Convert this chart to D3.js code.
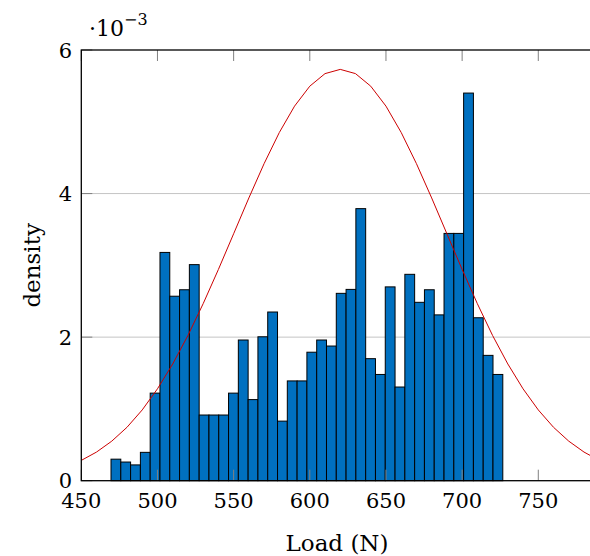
<!DOCTYPE html>
<html><head><meta charset="utf-8">
<script src="https://cdn.jsdelivr.net/npm/d3@7"></script>
<style>body{margin:0;background:#fff}svg{display:block}text{font-family:"DejaVu Serif",serif;fill:#000}</style>
</head><body>
<svg id="c" width="590" height="556"></svg>
<script>
// histogram bins (lower edge of first bin, bin width) and densities (×10^-3)
const binStart = 469.5;
const binWidth = 6.43;
const densities = [0.30,0.26,0.22,0.395,1.22,3.18,2.57,2.66,3.01,0.915,0.915,0.915,1.22,1.96,1.13,2.005,2.35,0.83,1.39,1.39,1.79,1.96,1.876,2.61,2.665,3.79,1.70,1.48,2.70,1.305,2.875,2.485,2.66,2.31,3.445,3.445,5.40,2.27,1.746,1.48];
// fitted normal curve (×10^-3)
const curveX = [450,460,470,480,490,500,510,520,530,540,550,560,570,580,590,600,610,620,630,640,650,660,670,680,690,700,710,720,730,740,750,760,770,780,790];
const curveY = [0.283,0.399,0.551,0.744,0.986,1.280,1.626,2.023,2.466,2.943,3.440,3.939,4.417,4.851,5.218,5.496,5.671,5.730,5.671,5.496,5.218,4.851,4.417,3.939,3.440,2.943,2.466,2.023,1.626,1.280,0.986,0.744,0.551,0.399,0.283];
const xTicks = [450,500,550,600,650,700,750];
const yTicks = [0,2,4,6];
const xLabel = "Load (N)";
const yLabel = "density";

const svg = d3.select("#c");
const L = 81.3, T = 50, B = 480.7;
const x = d3.scaleLinear().domain([450, 785]).range([L, L + 335 * 1.5233]);
const y = d3.scaleLinear().domain([0, 6]).range([B, T]);
const R = x.range()[1];

const defs = svg.append("defs");
defs.append("clipPath").attr("id","clip").append("rect")
  .attr("x", L).attr("y", T).attr("width", R - L).attr("height", B - T);

// grid
svg.append("g").selectAll("line").data(yTicks.filter(d => d > 0 && d < 6)).join("line")
  .attr("x1", L).attr("x2", R).attr("y1", d => y(d)).attr("y2", d => y(d))
  .attr("stroke", "#c4c4c4").attr("stroke-width", 1);

// bars
svg.append("g").selectAll("rect").data(densities).join("rect")
  .attr("x", (d, i) => x(binStart + i * binWidth))
  .attr("width", (d, i) => x(binStart + (i + 1) * binWidth) - x(binStart + i * binWidth))
  .attr("y", d => y(d))
  .attr("height", d => y(0) - y(d))
  .attr("fill", "#0070c0").attr("stroke", "#000").attr("stroke-width", 1);

// curve
const pts = curveX.map((v, i) => [v, curveY[i]]);
svg.append("path").attr("clip-path", "url(#clip)")
  .attr("d", d3.line().x(d => x(d[0])).y(d => y(d[1]))(pts))
  .attr("fill", "none").attr("stroke", "#cc0000").attr("stroke-width", 1);

// ticks
const tk = svg.append("g").attr("stroke", "#808080").attr("stroke-width", 1);
xTicks.forEach(v => {
  tk.append("line").attr("x1", x(v)).attr("x2", x(v)).attr("y1", B).attr("y2", B - 11);
  tk.append("line").attr("x1", x(v)).attr("x2", x(v)).attr("y1", T).attr("y2", T + 11);
});
yTicks.forEach(v => {
  tk.append("line").attr("x1", L).attr("x2", L + 11).attr("y1", y(v)).attr("y2", y(v));
});

// axis box
svg.append("rect").attr("x", L).attr("y", T).attr("width", R - L).attr("height", B - T)
  .attr("fill", "none").attr("stroke", "#000").attr("stroke-width", 1.3);

// tick labels
svg.append("g").selectAll("text").data(xTicks).join("text")
  .attr("x", d => x(d)).attr("y", 508).attr("text-anchor", "middle")
  .attr("font-size", 21).text(d => d);
svg.append("g").selectAll("text").data(yTicks).join("text")
  .attr("x", 72).attr("y", d => y(d) + 7.5).attr("text-anchor", "end")
  .attr("font-size", 21).text(d => d);

// scale note
const sn = svg.append("text").attr("x", 89).attr("y", 36).attr("font-size", 22);
sn.append("tspan").text("·10");
sn.append("tspan").attr("dy", -11).attr("font-size", 16).text("−3");

// axis labels
svg.append("text").attr("x", 337).attr("y", 551).attr("text-anchor", "middle")
  .attr("font-size", 23).text(xLabel);
svg.append("text").attr("transform", `translate(40,${(T + B) / 2}) rotate(-90)`)
  .attr("text-anchor", "middle").attr("font-size", 23).text(yLabel);
</script>
</body></html>
